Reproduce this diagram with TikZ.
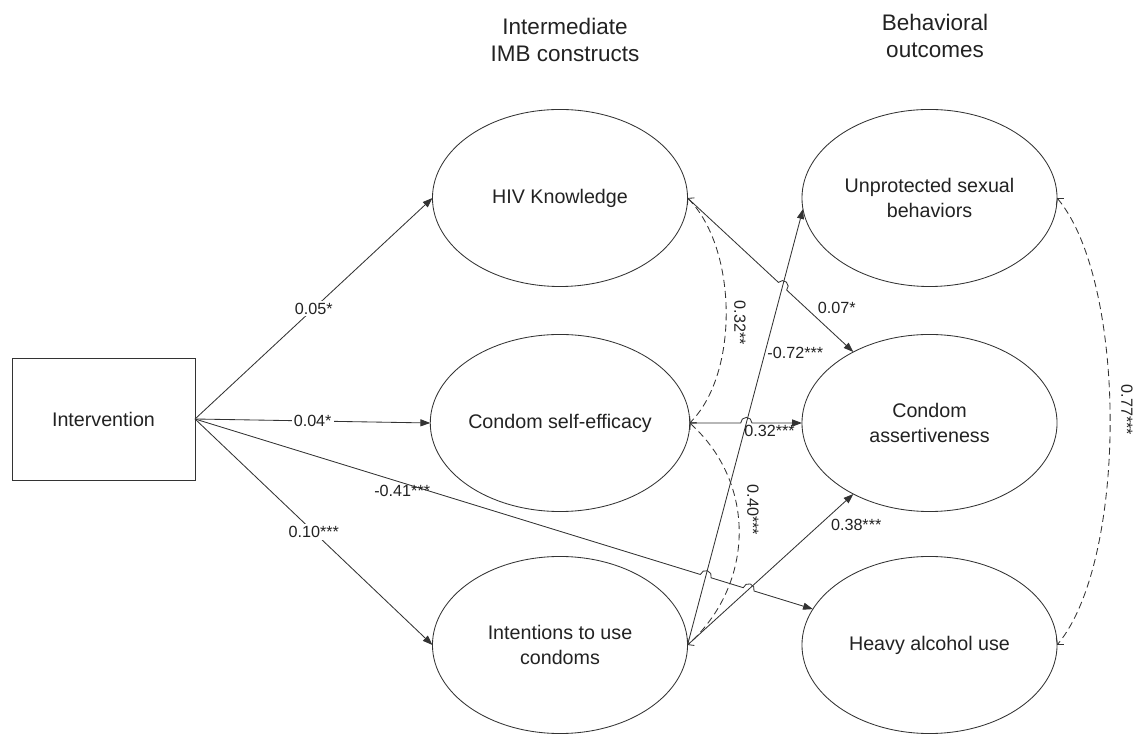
\documentclass[tikz,border=0pt]{standalone}
\usepackage{fontspec}
\setmainfont{Liberation Sans}
\usetikzlibrary{arrows.meta,shapes.geometric,calc,intersections}
\definecolor{linegray}{HTML}{333333}
\definecolor{textgray}{HTML}{222222}

\begin{document}
\begin{tikzpicture}[x=0.025cm,y=0.025cm,
	latent/.style={draw=linegray,line width=0.6pt,ellipse,minimum width=6.375cm,minimum height=4.425cm,inner sep=0pt,outer sep=0pt,align=center,text=textgray,font=\fontsize{14}{17.5}\selectfont},
	observed/.style={draw=linegray,line width=0.6pt,rectangle,minimum width=4.575cm,minimum height=3.05cm,inner sep=0pt,outer sep=0pt,text=textgray,font=\fontsize{14}{17}\selectfont},
	heading/.style={align=center,text=textgray,font=\fontsize{16}{19}\selectfont},
	causal/.style={draw=linegray,line width=0.6pt,-{Triangle[length=7pt,width=5pt]}},
	cov/.style={draw=linegray,line width=0.6pt,dash pattern=on 5pt off 3pt,{Straight Barb[length=3pt,width=7pt]}-{Straight Barb[length=3pt,width=7pt]}},
	coef/.style={text=textgray,inner sep=1.5pt,font=\fontsize{11.5}{13}\selectfont}]
		\useasboundingbox (0,0) rectangle (1135,735);

		\draw (565,695) node [heading] (midhead) {Intermediate\\IMB constructs};
		\draw (935,699) node [heading] (outhead) {Behavioral\\outcomes};

		\draw (103.5,316) node [observed] (box) {Intervention};
		\draw (560,537) node [latent] (hiv) {HIV Knowledge};
		\draw (560,312) node [latent] (selfeff) {Condom self-efficacy};
		\draw (560,90) node [latent] (intent) {Intentions to use\\condoms};
		\draw (929.5,537) node [latent] (unprot) {Unprotected sexual\\behaviors};
		\draw (929.5,312) node [latent] (assert) {Condom\\assertiveness};
		\draw (929.5,90) node [latent] (heavy) {Heavy alcohol use};

		\draw
			(box.east) edge [causal] node [coef,fill=white] {0.05*} (hiv.west)
			(box.east) edge [causal] node [coef,fill=white] {0.04*} (selfeff.west)
			(box.east) edge [causal] node [coef,fill=white] {0.10***} (intent.west)
			(intent.east) edge [causal] node [coef,pos=0.67,right] {-0.72***} (unprot.185)
			(intent.east) edge [causal] node [coef,pos=0.85,below right] {0.38***} (assert.223)
			(hiv.east) edge [cov,out=-45,in=45,looseness=0.8] (selfeff.east)
			(selfeff.east) edge [cov,out=-42,in=42,looseness=1.04] (intent.east)
			(unprot.east) edge [cov,out=-50,in=50,looseness=0.63] (heavy.east)
		;

		% crossings get a small hop
		\path [name path=steep] (intent.east) -- (unprot.185);
		\path [name path=knowline] (hiv.east) -- (assert.137);
		\path [name path=effline] (selfeff.east) -- (assert.west);
		\path [name path=intline] (intent.east) -- (assert.223);
		\path [name path=alcline] (box.east) -- (heavy);
		\path [name intersections={of=steep and knowline,by=hopa}];
		\path [name intersections={of=steep and effline,by=hopb}];
		\path [name intersections={of=steep and alcline,by=hopc}];
		\path [name intersections={of=intline and alcline,by=hopd}];

		\draw [causal] let \p1=($(assert.137)-(hiv.east)$), \n1={atan2(\y1,\x1)} in
			(hiv.east) -- ($(hopa)!4pt!(hiv.east)$) arc [start angle=\n1+180,end angle=\n1,radius=4pt]
			-- node [coef,pos=0.43,anchor=south west] {0.07*} (assert.137);
		\draw [causal] let \p1=($(assert.west)-(selfeff.east)$), \n1={atan2(\y1,\x1)} in
			(selfeff.east) -- ($(hopb)!4pt!(selfeff.east)$) arc [start angle=\n1+180,end angle=\n1,radius=4pt]
			-- node [coef,pos=0.35,below] {0.32***} (assert.west);
		\draw [causal] let \p1=($(heavy.163)-(box.east)$), \n1={atan2(\y1,\x1)} in
			(box.east) -- node [coef,pos=0.41,below] {-0.41***} ($(hopc)!4pt!(box.east)$)
			arc [start angle=\n1+180,end angle=\n1,radius=4pt]
			-- ($(hopd)!4pt!(box.east)$) arc [start angle=\n1+180,end angle=\n1,radius=4pt]
			-- (heavy);

		\draw (740,412) node [coef,rotate=-90] (covknow) {0.32**};
		\draw (753,225) node [coef,rotate=-90] (coveff) {0.40***};
		\draw (1127,325) node [coef,rotate=-90] (covout) {0.77***};
	\end{tikzpicture}
\end{document}
